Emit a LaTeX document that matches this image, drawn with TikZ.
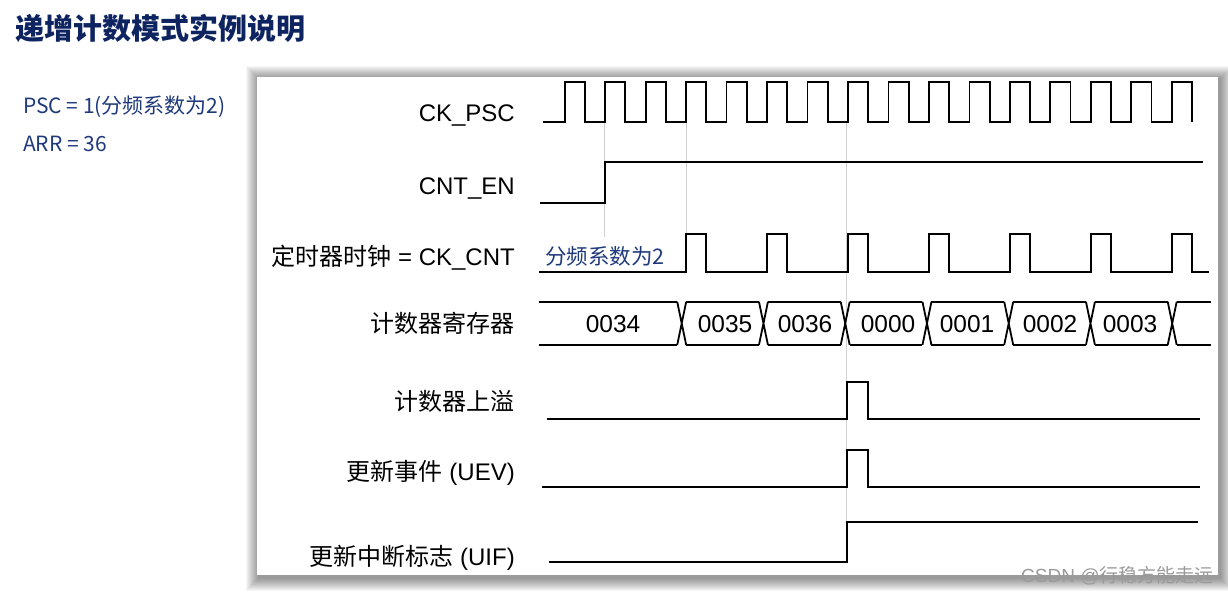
\documentclass[tikz,border=0pt]{standalone}
\usepackage{fontspec}
\setmainfont{Liberation Sans}
\newfontfamily\cjk{Noto Sans CJK SC}
\definecolor{titlecol}{HTML}{0E2461}
\definecolor{psccol}{HTML}{1F3A7A}
\definecolor{guidegray}{HTML}{D0D0D0}
\definecolor{wmgray}{HTML}{9A9A9A}
\begin{document}
\begin{tikzpicture}[x=1pt,y=-1pt,
  wave/.style={line width=1.8pt, line join=miter},
  guide/.style={draw=guidegray, line width=0.8pt},
  lab/.style={anchor=base east, inner sep=0pt, font=\fontsize{24}{28}\selectfont},
  val/.style={anchor=base, inner sep=0pt, font=\fontsize{24.5}{28}\selectfont},
  note/.style={anchor=base west, inner sep=0pt, text=psccol}]
\useasboundingbox (0,0) rectangle (1228,594);
\fill[white] (0,0) rectangle (1228,594);
% shadow of the frame
\foreach \i in {1,...,13}{
  \fill[black,opacity=0.035] ({259-\i},{79-\i}) rectangle ({1220+\i},{578+\i});
}
\fill[white] (257,77) rectangle (1218,575);

% title and parameters
\node[anchor=base west, inner sep=0pt, text=titlecol, font=\cjk\bfseries\fontsize{29}{32}\selectfont] (title) at (15,40) {递增计数模式实例说明};
\node[note, font=\cjk\fontsize{21}{24}\selectfont] (psc) at (23,113.5) {PSC = 1(分频系数为2)};
\node[note, font=\cjk\fontsize{21}{24}\selectfont] (arr) at (23,151.5) {ARR = 36};

% guide lines
\draw[guide] (604.7,123) -- (604.7,237);
\draw[guide] (686.3,123) -- (686.3,234);
\draw[guide] (846.7,123) -- (846.7,562);

% signal labels
\node[lab] (lpsc) at (515,121.6) {CK\_PSC};
\node[lab] (len)  at (515,194.6) {CNT\_EN};
\node[lab] (lcnt) at (515,265.9) {{\cjk 定时器时钟} = CK\_CNT};
\node[lab] (lreg) at (515,332.1) {\cjk 计数器寄存器};
\node[lab] (lovf) at (515,410.3) {\cjk 计数器上溢};
\node[lab] (luev) at (515,480.3) {{\cjk 更新事件} (UEV)};
\node[lab] (luif) at (515,565.3) {{\cjk 更新中断标志} (UIF)};

% CK_PSC
\draw[wave] (543,121.7) foreach \k in {0,...,15}{
  -- ({564.7+40.47*\k},121.7) -- ++(0,-40) -- ++(20.2,0) -- ++(0,40) };

% CNT_EN
\draw[wave] (540,203.3) -- (605.3,203.3) -- (605.3,162.3) -- (1202.7,162.3);

% CK_CNT
\draw[wave] (539,271.7) foreach \k in {3,5,...,15}{
  -- ({564.7+40.47*\k},271.7) -- ++(0,-37.7) -- ++(20.2,0) -- ++(0,37.7) } -- (1209,271.7);
\node[note, font=\cjk\fontsize{21.5}{24}\selectfont] (div) at (545,264.5) {分频系数为2};

% counter register
\foreach \j in {0,...,7}{
  \pgfmathsetmacro\xa{\j==0 ? 539 : 681.7+81.75*(\j-1)+4.5}
  \pgfmathsetmacro\xb{\j==7 ? 1210.7 : 681.7+81.75*\j-4.5}
  \draw[wave] (\xa,301.7) -- (\xb,301.7) (\xa,345) -- (\xb,345);
}
\foreach \j in {0,...,6}{
  \pgfmathsetmacro\cx{681.7+81.75*\j}
  \draw[wave] ({\cx-4.5},301.7) -- ({\cx+4.5},345) ({\cx-4.5},345) -- ({\cx+4.5},301.7);
}
\node[val] (v0) at (613,332.8) {0034};
\node[val] (v1) at (725,332.8) {0035};
\node[val] (v2) at (805,332.8) {0036};
\node[val] (v3) at (888,332.8) {0000};
\node[val] (v4) at (967,332.8) {0001};
\node[val] (v5) at (1050,332.8) {0002};
\node[val] (v6) at (1130,332.8) {0003};

% overflow
\draw[wave] (547.3,419) -- (846.7,419) -- (846.7,381.7) -- (867.7,381.7) -- (867.7,419) -- (1200,419);
% UEV
\draw[wave] (542.3,487.3) -- (847.3,487.3) -- (847.3,450) -- (867.7,450) -- (867.7,487.3) -- (1200,487.3);
% UIF
\draw[wave] (549,562) -- (847.3,562) -- (847.3,522) -- (1197.7,522);

% watermark
\node[anchor=base west, inner sep=0pt, text=wmgray, font=\fontsize{19}{21}\selectfont] (wm) at (1021,582) {CSDN @{\cjk 行稳方能走远}};
\end{tikzpicture}
\end{document}
